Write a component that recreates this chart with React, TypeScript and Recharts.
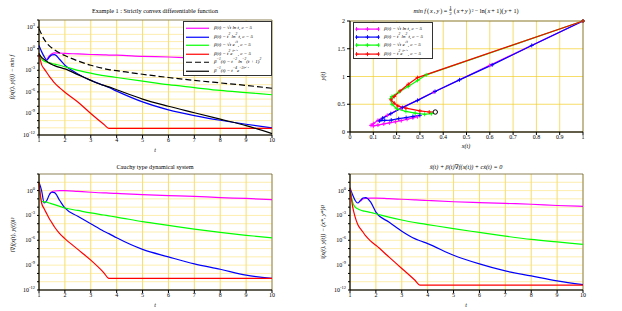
import React from 'react'
import { LineChart, Line, XAxis, YAxis, CartesianGrid, ReferenceArea, ReferenceDot } from 'recharts'

const FONT = '"Liberation Serif", "DejaVu Serif", serif'

// time grid shared by the three log plots
const tGrid = [1, 1.1, 1.2, 1.3, 1.4, 1.5, 1.6, 1.8, 2, 2.5, 3, 3.5, 3.7, 4, 5, 6, 7, 8, 9, 10]

// values are log10 exponents
// top left: f(x(t),y(t)) - min f
const tlSqrtLn = [null, null, null, -1.5, -1.0, -0.7, -0.58, -0.6, -0.65, -0.72, -0.8, -0.85, -0.88, -0.9, -1.05, -1.15, -1.3, -1.45, -1.6, -1.75]
const tlSqLn = [0.45, -0.4, -1.1, -1.6, -1.15, -0.85, -0.82, -1.5, -2.3, -3.5, -4.4, -5.1, -5.4, -5.9, -7.4, -8.5, -9.3, -9.95, -10.5, -11.0]
const tlSqrtExp = [-0.6, -1.4, -1.75, -1.85, -1.95, -2.05, -2.15, -2.3, -2.5, -3.0, -3.4, -3.75, -3.85, -4.0, -4.5, -5.0, -5.4, -5.8, -6.1, -6.4]
const tlSqExp = [-0.6, -2.2, -2.8, -3.3, -3.85, -4.3, -4.75, -5.45, -6.05, -7.4, -9.0, -10.5, -11.07, -11.07, -11.07, -11.07, -11.07, -11.07, -11.07, -11.07]
const tlBoundLn = [2.8, 2.0, 1.3, 0.8, 0.4, 0.1, -0.15, -0.6, -0.95, -1.7, -2.3, -2.75, -2.9, -3.05, -3.55, -4.0, -4.4, -4.75, -5.1, -5.5]
const tlBoundExp = [-0.7, -1.2, -1.5, -1.75, -2.0, -2.2, -2.35, -2.6, -2.8, -3.6, -4.4, -5.1, -5.3, -5.7, -7.0, -8.0, -8.9, -9.8, -10.7, -11.8]

// bottom left: |grad f|^2
const blSqrtLn = [null, null, null, null, -0.4, -0.15, -0.05, 0.0, 0.0, -0.1, -0.2, -0.28, -0.3, -0.35, -0.5, -0.6, -0.7, -0.85, -0.95, -1.1]
const blSqLn = [1.0, 0.0, -1.5, -1.2, -0.5, -0.2, -0.25, -1.2, -2.1, -3.1, -4.0, -4.9, -5.2, -5.7, -7.1, -8.0, -8.85, -9.5, -10.2, -10.6]
const blSqrtExp = [1.0, -1.3, -1.35, -1.4, -1.5, -1.6, -1.7, -1.9, -2.1, -2.4, -2.7, -2.95, -3.05, -3.2, -3.75, -4.2, -4.65, -5.05, -5.4, -5.7]
const blSqExp = [1.0, -1.5, -2.2, -2.8, -3.4, -3.9, -4.4, -5.2, -5.8, -7.1, -8.4, -9.9, -10.6, -10.6, -10.6, -10.6, -10.6, -10.6, -10.6, -10.6]

// bottom right: distance to the minimiser
const brSqrtLn = [null, null, null, null, -1.3, -1.0, -0.95, -0.9, -0.9, -0.98, -1.05, -1.12, -1.15, -1.2, -1.35, -1.45, -1.55, -1.65, -1.8, -1.9]
const brSqLn = [0.33, -0.5, -1.2, -1.5, -1.2, -0.9, -0.85, -1.4, -2.6, -3.8, -4.9, -5.8, -6.05, -6.4, -7.8, -8.85, -9.7, -10.3, -10.9, -11.35]
const brSqrtExp = [0.33, -1.4, -2.0, -2.2, -2.35, -2.45, -2.5, -2.65, -2.8, -3.2, -3.55, -3.85, -3.95, -4.1, -4.6, -5.05, -5.5, -5.9, -6.2, -6.5]
const brSqExp = [0.33, -1.9, -3.2, -4.1, -4.6, -5.0, -5.45, -6.1, -6.6, -8.0, -9.4, -10.8, -11.4, -11.4, -11.4, -11.4, -11.4, -11.4, -11.4, -11.4]

// top right: trajectories (x(t), y(t))
const trajSqrtLnX = [1, 0.6, 0.36, 0.22, 0.16, 0.12, 0.1, 0.09, 0.1, 0.12, 0.145, 0.17, 0.195, 0.22, 0.245, 0.27, 0.29]
const trajSqrtLnY = [2, 1.2, 0.72, 0.43, 0.3, 0.21, 0.15, 0.12, 0.11, 0.125, 0.145, 0.165, 0.185, 0.205, 0.23, 0.255, 0.275]
const trajSqLnX = [1, 0.78, 0.61, 0.47, 0.365, 0.29, 0.225, 0.175, 0.14, 0.127, 0.149, 0.177, 0.209, 0.241, 0.27, 0.3]
const trajSqLnY = [2, 1.56, 1.21, 0.94, 0.73, 0.57, 0.44, 0.33, 0.25, 0.2, 0.21, 0.215, 0.24, 0.26, 0.28, 0.3]
const trajSqrtExpX = [1, 0.327, 0.29, 0.25, 0.21, 0.18, 0.175, 0.18, 0.2, 0.24, 0.28, 0.32, 0.35, 0.366]
const trajSqrtExpY = [2, 1.03, 0.93, 0.82, 0.72, 0.64, 0.6, 0.5, 0.42, 0.37, 0.34, 0.32, 0.33, 0.36]
const trajSqExpX = [1, 0.29, 0.25, 0.215, 0.19, 0.176, 0.19, 0.205, 0.24, 0.3, 0.34, 0.366]
const trajSqExpY = [2, 0.98, 0.86, 0.74, 0.64, 0.58, 0.52, 0.47, 0.43, 0.38, 0.36, 0.36]
const optimum = [0.366, 0.36]

const tTicks = [1, 2, 3, 4, 5, 6, 7, 8, 9, 10]
const xTicks = [0, 0.1, 0.2, 0.3, 0.4, 0.5, 0.6, 0.7, 0.8, 0.9, 1]
const yTicks = [0, 0.5, 1, 1.5, 2]
const decadesTop = [-12, -11, -10, -9, -8, -7, -6, -5, -4, -3, -2, -1, 0, 1, 2, 3, 4]
const decadesBottom = [-12, -11, -10, -9, -8, -7, -6, -5, -4, -3, -2, -1, 0, 1, 2]

const MAGENTA = '#ff00ff'
const BLUE = '#0000ff'
const GREEN = '#00ff00'
const RED = '#ff0000'

function toRows(series: Record<string, (number | null)[]>) {
  return tGrid.map((t, i) => {
    const row: Record<string, number | null> = { t }
    for (const k of Object.keys(series)) {
      const v = series[k][i]
      row[k] = v == null ? null : Math.pow(10, v)
    }
    return row
  })
}

function toPath(xs: number[], ys: number[]) {
  return xs.map((x, i) => ({ x, y: ys[i] }))
}

function PowTick(props: any) {
  const { x, y, payload } = props
  const e = Math.round(Math.log10(payload.value))
  if (e % 3 !== 0) return <g />
  return (
    <text x={x} y={y + 2} textAnchor="end" fontSize={6} fontFamily={FONT} fill="#000">
      10<tspan dy={-3} fontSize={4.5}>{e}</tspan>
    </text>
  )
}

const plusDot = (color: string) => (p: any) => (
  <path
    key={`d${p.index}`}
    d={`M${p.cx - 2},${p.cy}H${p.cx + 2}M${p.cx},${p.cy - 2}V${p.cy + 2}`}
    stroke={color}
    strokeWidth={0.9}
    fill="none"
  />
)

const tickStyle = { fontSize: 6, fontFamily: FONT, fill: '#000' }

function LogPanel({ rows, lines, top, height, marginTop, xHeight }: any) {
  const ticks = (top === 4 ? decadesTop : decadesBottom).map((e) => Math.pow(10, e))
  return (
    <LineChart width={311} height={height} data={rows} margin={{ top: marginTop, right: 39, bottom: 0, left: 0 }}>
      <CartesianGrid horizontal={false} stroke="#f3cf2a" strokeWidth={0.7} />
      <CartesianGrid vertical={false} stroke="#fbe27a" strokeWidth={0.6} />
      <XAxis dataKey="t" type="number" domain={[1, 10]} ticks={tTicks} interval={0} height={xHeight}
        tick={tickStyle} tickSize={3} tickMargin={0} stroke="#000" />
      <YAxis type="number" scale="log" domain={[1e-12, Math.pow(10, top)]} allowDataOverflow ticks={ticks} interval={0}
        width={39} tick={<PowTick />} tickSize={2} tickMargin={2} stroke="#000" />
      <ReferenceArea x1={1} x2={10} y1={1e-12} y2={Math.pow(10, top)} fill="none" stroke="#444" strokeWidth={0.6} />
      {lines.map((l: any) => (
        <Line key={l.key} dataKey={l.key} stroke={l.color} strokeWidth={1.2} strokeDasharray={l.dash}
          dot={false} type="monotone" isAnimationActive={false} />
      ))}
    </LineChart>
  )
}

const abs = (left: number, top: number, extra: any = {}) => ({
  position: 'absolute' as const, left, top, fontFamily: FONT, fontSize: 6, color: '#000', whiteSpace: 'nowrap' as const, ...extra,
})

function Title({ x, y, children }: any) {
  return <div style={abs(x, y, { transform: 'translate(-50%, -50%)', fontSize: 6.2 })}>{children}</div>
}

function YLabel({ x, y, children }: any) {
  return <div style={abs(x, y, { transform: 'translate(-50%, -50%) rotate(-90deg)', fontStyle: 'italic' })}>{children}</div>
}

const SUP = { fontSize: 3.6, lineHeight: 0, verticalAlign: 'super' as const }

function LegendBox({ left, top, width, rowH, items, markers }: any) {
  return (
    <div style={abs(left, top, { width, height: rowH * items.length + 4, border: '0.8px solid #333', background: '#fff', boxSizing: 'border-box' })}>
      {items.map((it: any, i: number) => (
        <div key={i} style={{ position: 'absolute', left: 1, top: 2 + i * rowH, height: rowH, display: 'flex', alignItems: 'center' }}>
          <svg width={25} height={rowH} style={{ flex: 'none' }}>
            <line x1={1} x2={24} y1={rowH / 2} y2={rowH / 2} stroke={it.color} strokeWidth={1.2} strokeDasharray={it.dash} />
            {markers && [1.5, 12.5, 23.5].map((mx) => (
              <path key={mx} d={`M${mx - 2},${rowH / 2}H${mx + 2}M${mx},${rowH / 2 - 2}V${rowH / 2 + 2}`} stroke={it.color} strokeWidth={0.9} />
            ))}
          </svg>
          <span style={{ marginLeft: 4, fontStyle: 'italic', fontSize: 5, lineHeight: '6px' }}>{it.label}</span>
        </div>
      ))}
    </div>
  )
}

const betaLabels = [
  <>β(t) = √t ln t,  c = 5</>,
  <>β(t) = t<sup style={SUP}>2</sup> ln<sup style={SUP}>2</sup> t,  c = 5</>,
  <>β(t) = √t e<sup style={SUP}>√t</sup>,  c = 5</>,
  <>β(t) = t<sup style={SUP}>2</sup>e<sup style={SUP}>t³ᐟ⁴</sup>,  c = 5</>,
]
const boundLabels = [
  <>β<sup style={SUP}>−1</sup>(t) = t<sup style={SUP}>−2</sup> ln<sup style={SUP}>−2</sup>(t + 1)<sup style={SUP}>2</sup></>,
  <>β<sup style={SUP}>−1</sup>(t) = t<sup style={SUP}>−4</sup>e<sup style={SUP}>−2t³ᐟ⁴</sup></>,
]

export default function App() {
  const tlRows = toRows({ m: tlSqrtLn, b: tlSqLn, g: tlSqrtExp, r: tlSqExp, d: tlBoundLn, k: tlBoundExp })
  const blRows = toRows({ m: blSqrtLn, b: blSqLn, g: blSqrtExp, r: blSqExp })
  const brRows = toRows({ m: brSqrtLn, b: brSqLn, g: brSqrtExp, r: brSqExp })
  const four = [
    { key: 'm', color: MAGENTA },
    { key: 'b', color: BLUE },
    { key: 'g', color: GREEN },
    { key: 'r', color: RED },
  ]
  const six = [...four, { key: 'd', color: '#000', dash: '6 3' }, { key: 'k', color: '#000' }]
  const trajs = [
    { name: 'm', color: MAGENTA, data: toPath(trajSqrtLnX, trajSqrtLnY) },
    { name: 'b', color: BLUE, data: toPath(trajSqLnX, trajSqLnY) },
    { name: 'g', color: GREEN, data: toPath(trajSqrtExpX, trajSqrtExpY) },
    { name: 'r', color: RED, data: toPath(trajSqExpX, trajSqExpY) },
  ]

  return (
    <div style={{ position: 'absolute', left: 0, top: 0, width: 622, height: 311, background: '#fff', overflow: 'hidden' }}>
      {/* top left */}
      <div style={{ position: 'absolute', left: 0, top: 0 }}>
        <LogPanel rows={tlRows} lines={six} top={4} height={155} marginTop={20} xHeight={20} />
      </div>
      {/* top right */}
      <div style={{ position: 'absolute', left: 311, top: 0 }}>
        <LineChart width={311} height={155} margin={{ top: 21, right: 39, bottom: 0, left: 0 }}>
          <CartesianGrid stroke="#f3cf2a" strokeWidth={0.7} />
          <XAxis dataKey="x" type="number" domain={[0, 1]} ticks={xTicks} interval={0} height={23}
            tick={tickStyle} tickSize={3} tickMargin={0} stroke="#000" allowDuplicatedCategory={false} />
          <YAxis dataKey="y" type="number" domain={[0, 2]} ticks={yTicks} interval={0} width={39}
            tick={tickStyle} tickSize={3} tickMargin={2} stroke="#000" />
          <ReferenceArea x1={0} x2={1} y1={0} y2={2} fill="none" stroke="#444" strokeWidth={0.6} />
          {trajs.map((tr) => (
            <Line key={tr.name} data={tr.data} dataKey="y" stroke={tr.color} strokeWidth={1.2} type="linear"
              dot={plusDot(tr.color)} isAnimationActive={false} />
          ))}
          <ReferenceDot x={optimum[0]} y={optimum[1]} r={2.2} fill="#fff" stroke="#000" strokeWidth={1} />
        </LineChart>
      </div>
      {/* bottom left */}
      <div style={{ position: 'absolute', left: 0, top: 155 }}>
        <LogPanel rows={blRows} lines={four} top={2} height={156} marginTop={19} xHeight={21} />
      </div>
      {/* bottom right */}
      <div style={{ position: 'absolute', left: 311, top: 155 }}>
        <LogPanel rows={brRows} lines={four} top={2} height={156} marginTop={19} xHeight={21} />
      </div>

      <Title x={155} y={10}>Example 1 :  Strictly convex differentiable function</Title>
      <Title x={466} y={10}>
        <span style={{ display: 'inline-flex', alignItems: 'center', gap: 1 }}>
          <i>min f</i>(<i>x</i>, <i>y</i>) =
          <span style={{ display: 'inline-flex', flexDirection: 'column', alignItems: 'center', fontSize: 5, lineHeight: '5px', margin: '0 1px' }}>
            <span style={{ borderBottom: '0.6px solid #000' }}>1</span><span>2</span>
          </span>
          (<i>x</i> + <i>y</i>)<sup style={SUP}>2</sup> − ln(<i>x</i> + 1)(<i>y</i> + 1)
        </span>
      </Title>
      <Title x={155} y={166}>Cauchy type dynamical system</Title>
      <Title x={466} y={166}><i>ẍ(t) + β(t)∇f(x(t)) + cẋ(t) = 0</i></Title>

      <div style={abs(155, 150, { transform: 'translate(-50%, -50%)', fontStyle: 'italic' })}>t</div>
      <div style={abs(466, 146, { transform: 'translate(-50%, -50%)', fontStyle: 'italic' })}>x(t)</div>
      <div style={abs(155, 305, { transform: 'translate(-50%, -50%)', fontStyle: 'italic' })}>t</div>
      <div style={abs(466, 305, { transform: 'translate(-50%, -50%)', fontStyle: 'italic' })}>t</div>

      <YLabel x={12} y={77}>f(x(t), y(t)) − min f</YLabel>
      <YLabel x={323} y={76}>y(t)</YLabel>
      <YLabel x={12} y={235}>‖∇f(x(t), y(t))‖²</YLabel>
      <YLabel x={323} y={232}>‖(x(t), y(t)) − (x*, y*)‖²</YLabel>

      <LegendBox left={183} top={21} width={89} rowH={8.5}
        items={[
          ...four.map((f, i) => ({ color: f.color, label: betaLabels[i] })),
          { color: '#000', dash: '6 3', label: boundLabels[0] },
          { color: '#000', label: boundLabels[1] },
        ]} />
      <LegendBox left={353} top={22} width={80} rowH={8.2} markers
        items={four.map((f, i) => ({ color: f.color, label: betaLabels[i] }))} />
    </div>
  )
}
